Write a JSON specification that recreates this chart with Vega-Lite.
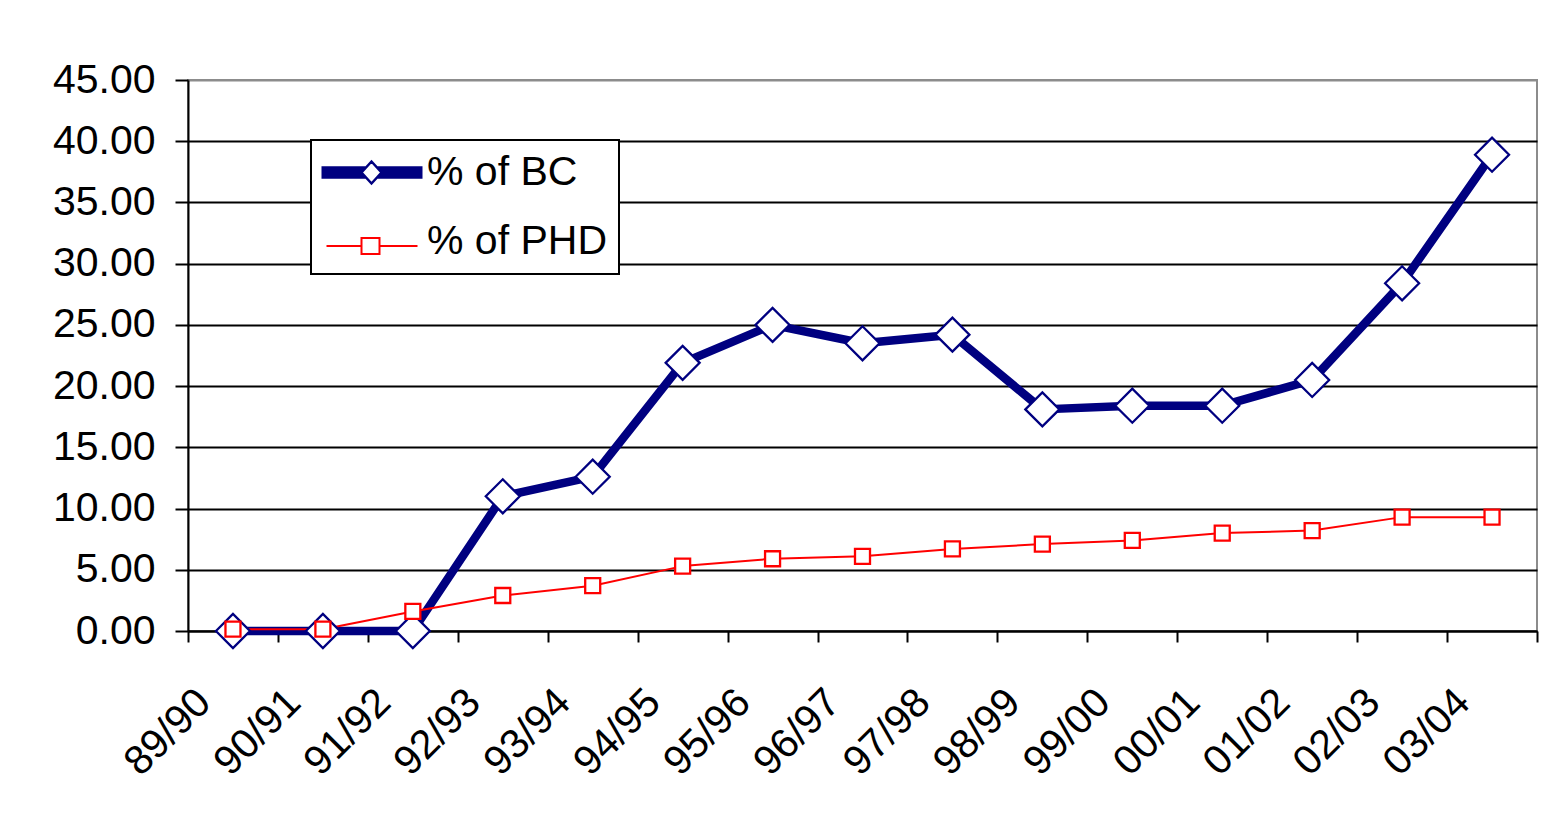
{
  "$schema": "https://vega.github.io/schema/vega-lite/v6.json",
  "autosize": {"type": "none"},
  "width": 1349,
  "height": 551,
  "padding": {"left": 188, "top": 80, "right": 22, "bottom": 186},
  "background": "white",
  "config": {
    "font": "Liberation Sans",
    "view": {"stroke": "#8c8c8c", "strokeWidth": 2}
  },
  "data": {
    "values": [
      {"year": "89/90", "series": "% of BC", "value": 0},
      {"year": "90/91", "series": "% of BC", "value": 0},
      {"year": "91/92", "series": "% of BC", "value": 0},
      {"year": "92/93", "series": "% of BC", "value": 11.0},
      {"year": "93/94", "series": "% of BC", "value": 12.6},
      {"year": "94/95", "series": "% of BC", "value": 21.9},
      {"year": "95/96", "series": "% of BC", "value": 25.0},
      {"year": "96/97", "series": "% of BC", "value": 23.5},
      {"year": "97/98", "series": "% of BC", "value": 24.2},
      {"year": "98/99", "series": "% of BC", "value": 18.1},
      {"year": "99/00", "series": "% of BC", "value": 18.4},
      {"year": "00/01", "series": "% of BC", "value": 18.4},
      {"year": "01/02", "series": "% of BC", "value": 20.5},
      {"year": "02/03", "series": "% of BC", "value": 28.4},
      {"year": "03/04", "series": "% of BC", "value": 38.9},
      {"year": "89/90", "series": "% of PHD", "value": 0.15},
      {"year": "90/91", "series": "% of PHD", "value": 0.15},
      {"year": "91/92", "series": "% of PHD", "value": 1.6},
      {"year": "92/93", "series": "% of PHD", "value": 2.9},
      {"year": "93/94", "series": "% of PHD", "value": 3.7},
      {"year": "94/95", "series": "% of PHD", "value": 5.3},
      {"year": "95/96", "series": "% of PHD", "value": 5.9},
      {"year": "96/97", "series": "% of PHD", "value": 6.1},
      {"year": "97/98", "series": "% of PHD", "value": 6.7},
      {"year": "98/99", "series": "% of PHD", "value": 7.1},
      {"year": "99/00", "series": "% of PHD", "value": 7.4},
      {"year": "00/01", "series": "% of PHD", "value": 8.0},
      {"year": "01/02", "series": "% of PHD", "value": 8.2},
      {"year": "02/03", "series": "% of PHD", "value": 9.3},
      {"year": "03/04", "series": "% of PHD", "value": 9.3}
    ]
  },
  "encoding": {
    "x": {
      "field": "year",
      "type": "ordinal",
      "sort": null,
      "scale": {"type": "band", "paddingInner": 0, "paddingOuter": 0},
      "axis": {
        "title": null,
        "tickBand": "extent",
        "grid": false,
        "labelAngle": -45,
        "labelAlign": "right",
        "labelBaseline": "middle",
        "labelFontSize": 41,
        "labelColor": "black",
        "labelPadding": 54,
        "labelOffset": -29,
        "labelOverlap": false,
        "labelFlush": false,
        "domainColor": "black",
        "domainWidth": 2,
        "tickColor": "black",
        "tickWidth": 2,
        "tickSize": 11
      }
    },
    "y": {
      "field": "value",
      "type": "quantitative",
      "scale": {"domain": [0, 45], "nice": false, "zero": true},
      "axis": {
        "title": null,
        "values": [0, 5, 10, 15, 20, 25, 30, 35, 40, 45],
        "format": ".2f",
        "labelFontSize": 41,
        "labelColor": "black",
        "labelPadding": 20,
        "labelFlush": false,
        "labelOverlap": false,
        "domainColor": "black",
        "domainWidth": 2,
        "tickColor": "black",
        "tickWidth": 2,
        "tickSize": 13,
        "grid": true,
        "gridColor": {"condition": {"test": "datum.value === 45", "value": "#8c8c8c"}, "value": "black"},
        "gridWidth": 2
      }
    },
    "color": {
      "field": "series",
      "type": "nominal",
      "scale": {"domain": ["% of BC", "% of PHD"], "range": ["#000080", "#ff0000"]},
      "legend": {
        "title": null,
        "orient": "none",
        "legendX": 123,
        "legendY": 60,
        "padding": 12,
        "strokeColor": "black",
        "fillColor": "white",
        "labelFont": "Liberation Sans",
        "labelFontSize": 41,
        "labelColor": "black",
        "labelLimit": 500,
        "labelOffset": 63,
        "symbolSize": 400,
        "symbolStrokeWidth": 2,
        "symbolType": "square",
        "rowPadding": 27,
        "encode": {
          "legend": {"update": {"strokeWidth": {"value": 2}}},
          "symbols": {
            "update": {
              "shape": {"signal": "datum.value === '% of BC' ? 'M-2.2,-0.5H2.3M-2.2,-0.25H2.05M-2.2,0H1.8M-2.2,0.25H2.05M-2.2,0.5H2.3M3.3,-0.5H7.9M3.55,-0.25H7.9M3.8,0H7.9M3.55,0.25H7.9M3.3,0.5H7.9M2.8,-1.1L3.8,0L2.8,1.1L1.8,0Z' : 'M-1.7,0.45H1.8M3.6,0.45H7.4M1.8,-0.35H3.6V1.25H1.8Z'"},
              "strokeWidth": {"signal": "datum.value === '% of BC' ? 2.5 : 2"},
              "fill": {"value": "white"},
              "fillOpacity": {"value": 1},
              "opacity": {"value": 1}
            }
          }
        }
      }
    }
  },
  "layer": [
    {
      "mark": {"type": "line", "strokeJoin": "round", "strokeCap": "round"},
      "encoding": {
        "strokeWidth": {
          "condition": {"test": "datum.series === '% of BC'", "value": 8.5},
          "value": 2
        }
      }
    },
    {
      "mark": {"type": "point", "filled": false, "fill": "white", "fillOpacity": 1, "opacity": 1, "strokeWidth": 2.3},
      "encoding": {
        "shape": {
          "condition": {"test": "datum.series === '% of BC'", "value": "diamond"},
          "value": "square"
        },
        "size": {
          "condition": {"test": "datum.series === '% of BC'", "value": 1156},
          "value": 225
        }
      }
    }
  ]
}
